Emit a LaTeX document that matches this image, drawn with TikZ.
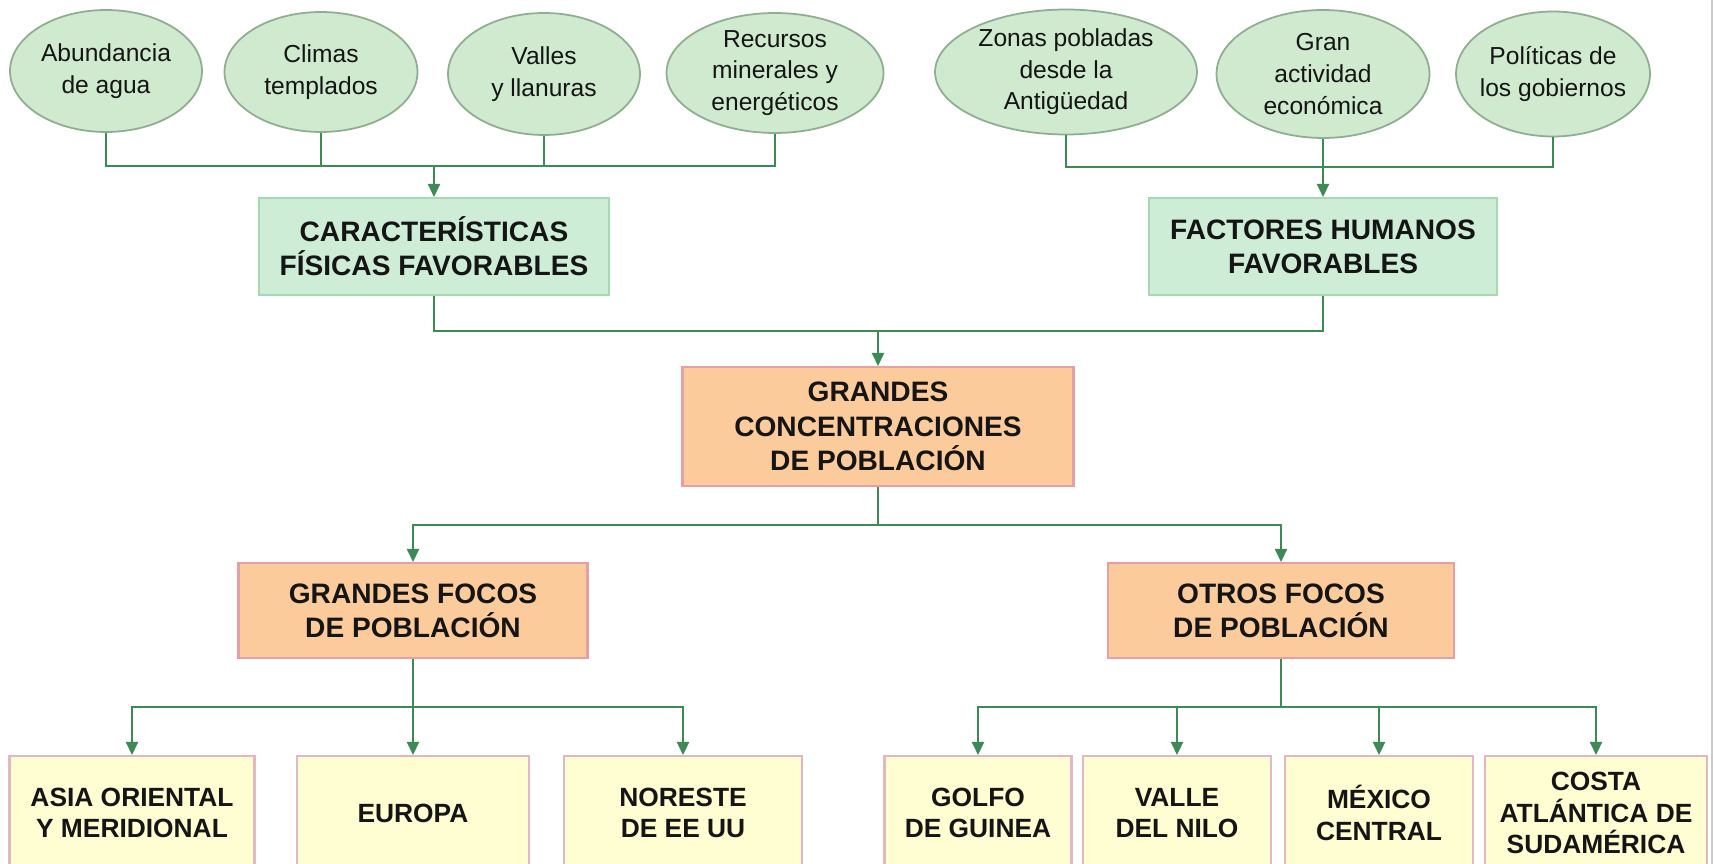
\documentclass[tikz,border=0pt]{standalone}
\usepackage{fontspec}
\setmainfont{Liberation Sans}
\usetikzlibrary{arrows.meta,shapes.geometric}
\definecolor{ellfill}{HTML}{CFEACF}
\definecolor{elldraw}{HTML}{8FAE8F}
\definecolor{gfill}{HTML}{CDEDD6}
\definecolor{gdraw}{HTML}{A6D9B1}
\definecolor{ofill}{HTML}{FCCB9C}
\definecolor{odraw}{HTML}{E5A0A6}
\definecolor{yfill}{HTML}{FFFDD2}
\definecolor{ydraw}{HTML}{E3B7C3}
\definecolor{conn}{HTML}{3E8A55}
\definecolor{txt}{HTML}{151515}
\tikzset{
  ell/.style={ellipse, draw=elldraw, fill=ellfill, line width=1pt, inner sep=0pt},
  elltext/.style={font=\fontsize{14}{18}\selectfont, text=txt, align=center},
  gbox/.style={rectangle, draw=gdraw, fill=gfill, line width=1.2pt, inner sep=0pt, align=center, text=txt, font=\fontsize{16}{19.5}\selectfont\bfseries},
  obox/.style={rectangle, draw=odraw, fill=ofill, line width=1.2pt, inner sep=0pt, align=center, text=txt, font=\fontsize{16}{19.5}\selectfont\bfseries},
  ybox/.style={rectangle, draw=ydraw, fill=yfill, line width=1.2pt, inner sep=0pt, align=center, text=txt, font=\fontsize{15}{17.8}\selectfont\bfseries},
  link/.style={draw=conn, line width=1.1pt},
  arr/.style={link, -{Triangle[length=7.5pt,width=7pt]}}
}
\begin{document}
\begin{tikzpicture}[x=0.02cm, y=-0.02cm]
\useasboundingbox (0,0) rectangle (1714,864);
\clip (0,0) rectangle (1714,864);
\fill[white] (0,0) rectangle (1714,864);
% ellipses
\node[ell, minimum width=3.84cm, minimum height=2.44cm, label={[elltext]center:Abundancia\\de agua}] (e1) at (106,71) {};
\node[ell, minimum width=3.86cm, minimum height=2.40cm, label={[elltext]center:Climas\\templados}] (e2) at (321,72) {};
\node[ell, minimum width=3.84cm, minimum height=2.44cm, label={[elltext]center:Valles\\y llanuras}] (e3) at (544,74) {};
\node[ell, minimum width=4.34cm, minimum height=2.40cm, label={[elltext]center:Recursos\\minerales y\\energéticos}] (e4) at (775,73) {};
\node[ell, minimum width=5.24cm, minimum height=2.50cm, label={[elltext]center:Zonas pobladas\\desde la\\Antigüedad}] (e5) at (1066,72) {};
\node[ell, minimum width=4.26cm, minimum height=2.56cm, label={[elltext]center:Gran\\actividad\\económica}] (e6) at (1323,74) {};
\node[ell, minimum width=3.88cm, minimum height=2.50cm, label={[elltext]center:Políticas de\\los gobiernos}] (e7) at (1553,74) {};
% boxes
\node[gbox, minimum width=7cm, minimum height=1.94cm] (carac) at (434,246.5) {CARACTERÍSTICAS\\FÍSICAS FAVORABLES};
\node[gbox, minimum width=6.96cm, minimum height=1.94cm] (fact) at (1323,246.5) {FACTORES HUMANOS\\FAVORABLES};
\node[obox, minimum width=7.82cm, minimum height=2.38cm] (conc) at (878,426.5) {GRANDES\\CONCENTRACIONES\\DE POBLACIÓN};
\node[obox, minimum width=6.98cm, minimum height=1.9cm] (gf) at (413,610.5) {GRANDES FOCOS\\DE POBLACIÓN};
\node[obox, minimum width=6.92cm, minimum height=1.9cm] (of) at (1281,610.5) {OTROS FOCOS\\DE POBLACIÓN};
\node[ybox, minimum width=4.9cm, minimum height=2.28cm] (b1) at (132,813) {ASIA ORIENTAL\\Y MERIDIONAL};
\node[ybox, minimum width=4.64cm, minimum height=2.28cm] (b2) at (413,813) {EUROPA};
\node[ybox, minimum width=4.76cm, minimum height=2.28cm] (b3) at (683,813) {NORESTE\\DE EE UU};
\node[ybox, minimum width=3.74cm, minimum height=2.28cm] (b4) at (978,813) {GOLFO\\DE GUINEA};
\node[ybox, minimum width=3.76cm, minimum height=2.28cm] (b5) at (1177,813) {VALLE\\DEL NILO};
\node[ybox, minimum width=3.76cm, minimum height=2.28cm] (b6) at (1379,813) {MÉXICO\\CENTRAL};
\node[ybox, minimum width=4.44cm, minimum height=2.28cm] (b7) at (1596,813) {COSTA\\ATLÁNTICA DE\\SUDAMÉRICA};
% junctions
\coordinate (j1) at (434,166);
\coordinate (j2) at (1323,167);
\coordinate (j3) at (878,331);
\coordinate (j4) at (878,525);
\coordinate (j5) at (413,707);
\coordinate (j6) at (1281,707);
% connectors
\draw[link] (e1.south) |- (j1);
\draw[link] (e2.south) |- (j1);
\draw[link] (e3.south) |- (j1);
\draw[link] (e4.south) |- (j1);
\draw[arr] (j1) -- (carac.north);
\draw[link] (e5.south) |- (j2);
\draw[link] (e7.south) |- (j2);
\draw[arr] (e6.south) -- (fact.north);
\draw[link] (carac.south) |- (j3);
\draw[link] (fact.south) |- (j3);
\draw[arr] (j3) -- (conc.north);
\draw[link] (conc.south) -- (j4);
\draw[arr] (j4) -| (gf.north);
\draw[arr] (j4) -| (of.north);
\draw[link] (gf.south) -- (j5);
\draw[arr] (j5) -| (b1.north);
\draw[arr] (j5) -- (b2.north);
\draw[arr] (j5) -| (b3.north);
\draw[link] (of.south) -- (j6);
\draw[arr] (j6) -| (b4.north);
\draw[arr] (j6) -| (b5.north);
\draw[arr] (j6) -| (b6.north);
\draw[arr] (j6) -| (b7.north);
% right edge frame line
\draw[black!20, line width=1.2pt] (1712,0) -- (1712,864);
\end{tikzpicture}
\end{document}
